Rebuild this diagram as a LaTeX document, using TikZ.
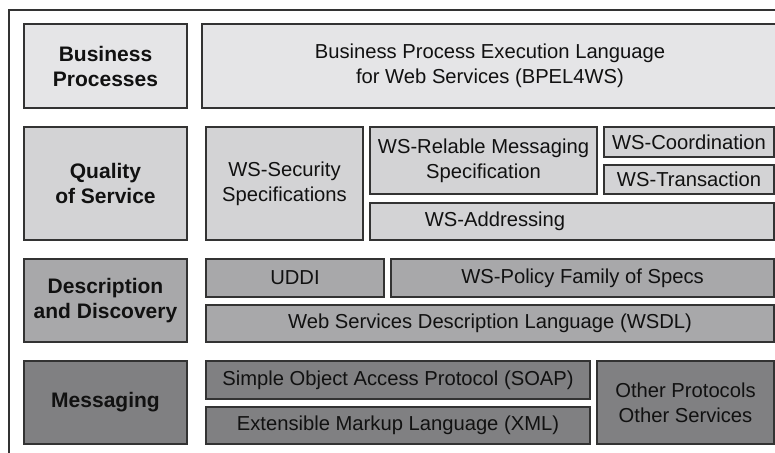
\documentclass[tikz,border=0pt]{standalone}
\usepackage{fontspec}
\setmainfont{Liberation Sans}
\definecolor{cA}{HTML}{E5E5E7}
\definecolor{cB}{HTML}{D3D3D5}
\definecolor{cC}{HTML}{A8A8AA}
\definecolor{cD}{HTML}{808082}
\definecolor{edge}{HTML}{333333}
\definecolor{ink}{HTML}{111111}
\newcommand\wsbox[7]{\node[wsb, fill=#6, minimum width={#4-#2}, minimum height={#5-#3}] (#1) at ({(#2+#4)/2},{(#3+#5)/2}) {#7};}
\tikzset{
  wsb/.style={draw=edge, line width=1.5pt, inner sep=0pt, outer sep=0pt, align=center, text=ink, font=\fontsize{20.2}{25}\selectfont},
}
\newcommand\hb{\fontsize{21}{25}\selectfont\bfseries}
\begin{document}
\begin{tikzpicture}[x=1pt,y=-1pt]
\useasboundingbox (0,0) rectangle (775,452);
\clip (0,0) rectangle (775,452);
\draw[edge, line width=1.5pt] (9,470) -- (9,10) -- (790,10);
\wsbox{bp}{24}{24}{187}{108}{cA}{\hb Business\\\hb Processes}
\wsbox{bpel}{202}{24}{778}{108}{cA}{Business Process Execution Language\\for Web Services (BPEL4WS)}
\wsbox{qos}{24}{127}{187}{240}{cB}{\hb Quality\\\hb of Service}
\wsbox{sec}{206}{127}{363}{240}{cB}{WS-Security\\Specifications}
\wsbox{rm}{370}{127}{597}{194}{cB}{WS-Relable Messaging\\Specification}
\wsbox{coord}{604}{127}{774}{157}{cB}{WS-Coordination}
\wsbox{trans}{604}{165}{774}{194}{cB}{WS-Transaction}
\wsbox{addr}{370}{203}{774}{240}{cB}{}
\node[text=ink, font=\fontsize{20.2}{25}\selectfont, inner sep=0pt] (addrtext) at (495,221.5) {WS-Addressing};
\wsbox{dd}{24}{259}{187}{342}{cC}{\hb Description\\\hb and Discovery}
\wsbox{uddi}{206}{259}{384}{297}{cC}{UDDI}
\wsbox{pol}{391}{259}{774}{297}{cC}{WS-Policy Family of Specs}
\wsbox{wsdl}{206}{305}{774}{342}{cC}{Web Services Description Language (WSDL)}
\wsbox{msg}{24}{361}{187}{444}{cD}{\hb Messaging}
\wsbox{soap}{206}{361}{590}{399}{cD}{Simple Object Access Protocol (SOAP)}
\wsbox{xml}{206}{407}{590}{444}{cD}{Extensible Markup Language (XML)}
\wsbox{oth}{597}{361}{774}{444}{cD}{Other Protocols\\Other Services}
\end{tikzpicture}
\end{document}
